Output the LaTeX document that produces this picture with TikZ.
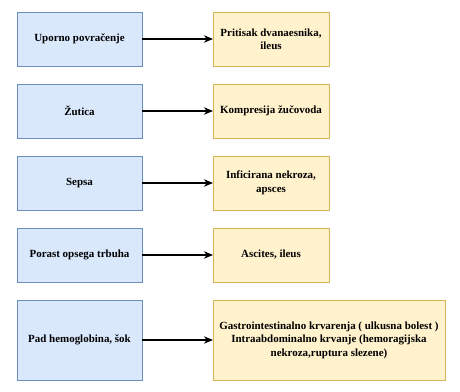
\documentclass[tikz,border=0pt]{standalone}
\usepackage{fontspec}
\setmainfont{Liberation Serif}
\usepackage{xcolor}
\usetikzlibrary{arrows.meta, positioning}
\definecolor{signblue}{HTML}{6C8EBF}
\definecolor{signbluefill}{HTML}{DAE8FC}
\definecolor{causegold}{HTML}{D6B656}
\definecolor{causegoldfill}{HTML}{FFF2CC}

\begin{document}
\begin{tikzpicture}[
  font=\fontsize{11}{13.5}\selectfont\bfseries,
  node distance=18bp and 71bp,
  every node/.style={align=center},
  flow/.style={-{Stealth[length=3.2mm, width=2.6mm]}, line width=1.4pt, draw=black},
  box/.style={
    thin,
    minimum height=54bp,
    inner sep=2pt,
    outer sep=0pt
  },
  signbox/.style={box, draw=signblue, fill=signbluefill, minimum width=125bp},
  causebox/.style={box, draw=causegold, fill=causegoldfill, minimum width=116bp}
]

\useasboundingbox (0,0) rectangle (460bp,-392bp);

\node[signbox, anchor=north west] (vomit) at (17bp,-12bp) {Uporno povračenje};
\node[signbox, below=of vomit] (jaund) {Žutica};
\node[signbox, below=of jaund] (sepsis) {Sepsa};
\node[signbox, below=of sepsis] (belly) {Porast opsega trbuha};
\node[signbox, below=of belly, minimum height=80bp] (shock) {Pad hemoglobina, šok};

\node[causebox, right=of vomit] (duoden) {Pritisak dvanaesnika,\\ileus};
\node[causebox, right=of jaund] (bile) {Kompresija žučovoda};
\node[causebox, right=of sepsis] (necro) {Inficirana nekroza,\\apsces};
\node[causebox, right=of belly] (ascit) {Ascites, ileus};
\node[causebox, right=of shock, minimum width=232bp, minimum height=80bp] (bleed)
  {Gastrointestinalno krvarenja ( ulkusna bolest )\\
   Intraabdominalno krvanje (hemoragijska\\
   nekroza,ruptura slezene)};

\draw[flow] (vomit) -- (duoden);
\draw[flow] (jaund) -- (bile);
\draw[flow] (sepsis) -- (necro);
\draw[flow] (belly) -- (ascit);
\draw[flow] (shock) -- (bleed);

\end{tikzpicture}
\end{document}
